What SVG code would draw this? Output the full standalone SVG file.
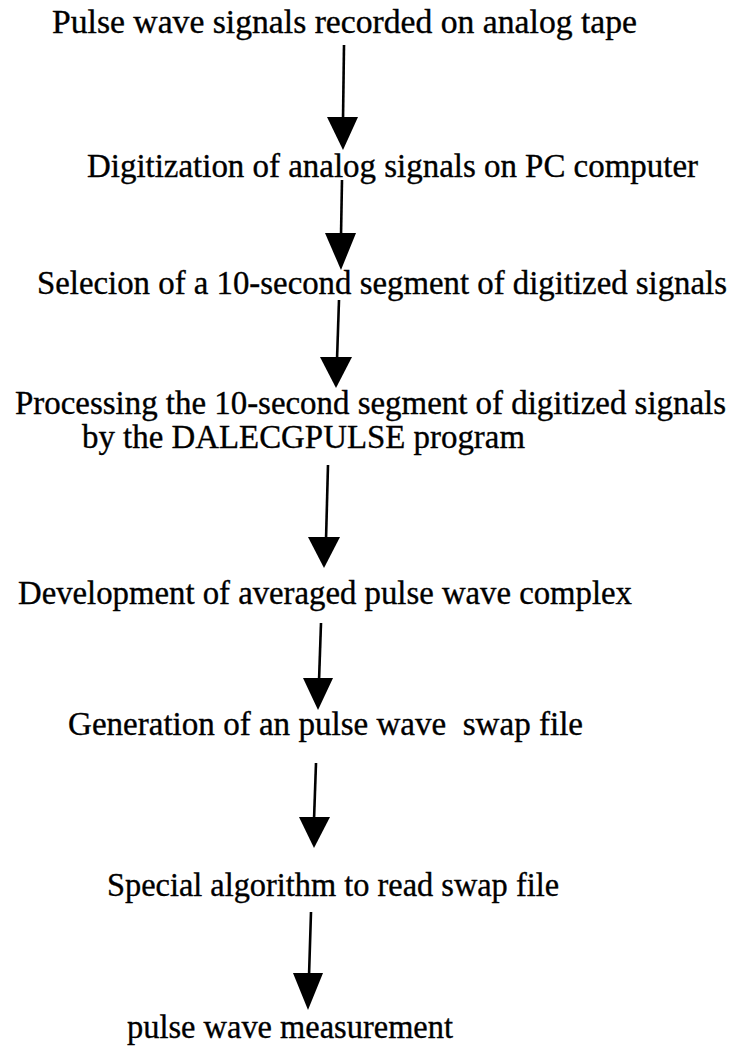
<svg xmlns="http://www.w3.org/2000/svg" width="739" height="1050" viewBox="0 0 739 1050">
<style>
.t{font-family:"Liberation Serif","Times New Roman",serif;font-size:33px;fill:#000;stroke:#000;stroke-width:0.35;white-space:pre}
.c line{stroke:#000;stroke-width:2.6}
.c polygon{fill:#000}
</style>
<rect width="739" height="1050" fill="#fff"/>
<g id="n1"><text class="t" x="52" y="33" textLength="585" lengthAdjust="spacingAndGlyphs">Pulse wave signals recorded on analog tape</text></g>
<g id="n2"><text class="t" x="87" y="177" textLength="611" lengthAdjust="spacingAndGlyphs">Digitization of analog signals on PC computer</text></g>
<g id="n3"><text class="t" x="37" y="294" textLength="690" lengthAdjust="spacingAndGlyphs">Selecion of a 10-second segment of digitized signals</text></g>
<g id="n4"><text class="t" x="15" y="414" textLength="711" lengthAdjust="spacingAndGlyphs">Processing the 10-second segment of digitized signals</text><text class="t" x="82" y="448" textLength="443" lengthAdjust="spacingAndGlyphs">by the DALECGPULSE program</text></g>
<g id="n5"><text class="t" x="18" y="604" textLength="614" lengthAdjust="spacingAndGlyphs">Development of averaged pulse wave complex</text></g>
<g id="n6"><text class="t" x="68" y="735" textLength="515" lengthAdjust="spacingAndGlyphs" xml:space="preserve">Generation of an pulse wave  swap file</text></g>
<g id="n7"><text class="t" x="107" y="896" textLength="452" lengthAdjust="spacingAndGlyphs">Special algorithm to read swap file</text></g>
<g id="n8"><text class="t" x="127" y="1038" textLength="326" lengthAdjust="spacingAndGlyphs">pulse wave measurement</text></g>
<g id="connectors" class="c">
<line x1="344" y1="45" x2="343" y2="120"/><polygon points="327,117 358,117 343,150"/>
<line x1="342" y1="180" x2="341" y2="236"/><polygon points="325,233 356,233 341,270"/>
<line x1="339" y1="300" x2="337" y2="360"/><polygon points="320,357 352,357 336,388"/>
<line x1="328" y1="465" x2="326" y2="540"/><polygon points="308,537 340,537 324,568"/>
<line x1="321" y1="623" x2="319" y2="681"/><polygon points="303,678 333,678 318,710"/>
<line x1="316" y1="763" x2="314" y2="820"/><polygon points="299,817 330,817 314,848"/>
<line x1="311" y1="912" x2="309" y2="976"/><polygon points="293,973 323,973 308,1010"/>
</g>
</svg>
